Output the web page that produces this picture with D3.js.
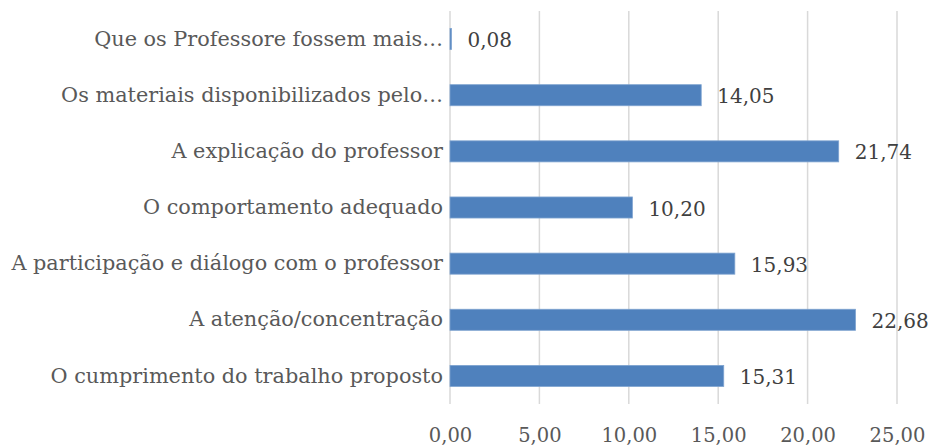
<!DOCTYPE html>
<html>
<head>
<meta charset="utf-8">
<script src="https://cdn.jsdelivr.net/npm/d3@7"></script>
<style>
  body { margin: 0; background: #fff; }
</style>
</head>
<body>
<div id="wrapper"></div>
<script>
// data, top to bottom as drawn
const categories = [
    "Que os Professore fossem mais…",
    "Os materiais disponibilizados pelo…",
    "A explicação do professor",
    "O comportamento adequado",
    "A participação e diálogo com o professor",
    "A atenção/concentração",
    "O cumprimento do trabalho proposto"
]
const values = [0.08, 14.05, 21.74, 10.20, 15.93, 22.68, 15.31]
const xTicks = [0, 5, 10, 15, 20, 25]

const fmt = v => v.toFixed(2).replace(".", ",")

const width = 935
const height = 448
let dimensions = {
    width: width,
    height: height,
    margin: { top: 11, right: 38, bottom: 44, left: 450 },
}
dimensions.boundedWidth = dimensions.width - dimensions.margin.left - dimensions.margin.right
dimensions.boundedHeight = dimensions.height - dimensions.margin.top - dimensions.margin.bottom

const svg = d3.select("#wrapper")
    .append("svg")
    .attr("width", dimensions.width)
    .attr("height", dimensions.height)
    .style("font-family", "'DejaVu Serif', serif")

const bounds = svg.append("g")
    .attr("transform", `translate(${dimensions.margin.left},${dimensions.margin.top})`)

const xScale = d3.scaleLinear()
    .domain([0, 25])
    .range([0, dimensions.boundedWidth])

// bar takes ~37% of each row, centred in it
const yScale = d3.scaleBand()
    .domain(categories)
    .range([0, dimensions.boundedHeight])
    .paddingInner(0.625)
    .paddingOuter(0.3125)

// gridlines
bounds.append("g")
    .selectAll("line")
    .data(xTicks)
    .join("line")
    .attr("x1", d => xScale(d))
    .attr("x2", d => xScale(d))
    .attr("y1", 0)
    .attr("y2", dimensions.boundedHeight)
    .attr("stroke", "#d9d9d9")
    .attr("stroke-width", 1.5)

// bars
bounds.append("g")
    .selectAll("rect")
    .data(values)
    .join("rect")
    .attr("x", xScale(0))
    .attr("y", (d, i) => yScale(categories[i]))
    .attr("width", d => xScale(d) - xScale(0))
    .attr("height", yScale.bandwidth())
    .attr("fill", "#4f81bd")
    .attr("stroke", "#7ea3d0")
    .attr("stroke-width", 0.8)

// value labels
bounds.append("g")
    .selectAll("text")
    .data(values)
    .join("text")
    .attr("x", d => xScale(d) + 16)
    .attr("y", (d, i) => yScale(categories[i]) + yScale.bandwidth() / 2)
    .attr("dy", "0.4em")
    .text(fmt)
    .attr("fill", "#404040")
    .attr("font-size", "20px")

// category axis
const yAxis = bounds.append("g")
    .call(d3.axisLeft(yScale).tickSize(0).tickPadding(7))
yAxis.select(".domain").remove()
yAxis.selectAll("text")
    .attr("fill", "#595959")
    .attr("font-size", "20.8px")
    .attr("font-family", "'DejaVu Serif', serif")

// value axis
const xAxis = bounds.append("g")
    .attr("transform", `translate(0,${dimensions.boundedHeight})`)
    .call(d3.axisBottom(xScale).tickValues(xTicks).tickSize(0).tickPadding(24).tickFormat(fmt))
xAxis.select(".domain").remove()
xAxis.selectAll("text")
    .attr("fill", "#595959")
    .attr("font-size", "19.5px")
    .attr("font-family", "'DejaVu Serif', serif")
</script>
</body>
</html>
